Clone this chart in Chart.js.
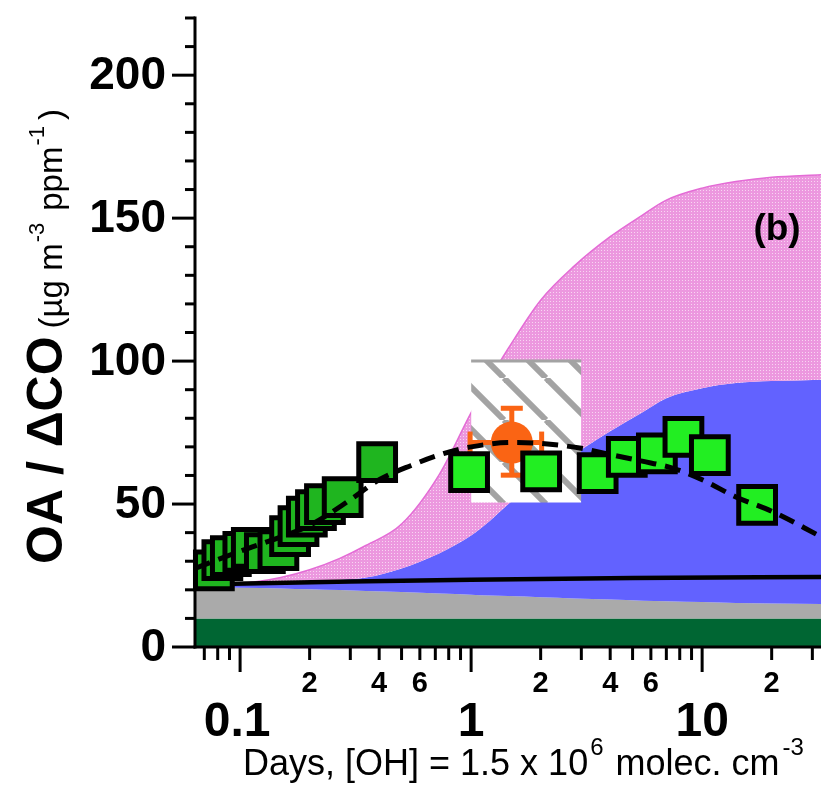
<!DOCTYPE html>
<html>
<head>
<meta charset="utf-8">
<script src="https://cdn.jsdelivr.net/npm/chart.js@4.4.1/dist/chart.umd.min.js"></script>
<style>
  html, body { margin: 0; padding: 0; background: #fff; }
  canvas { display: block; }
</style>
</head>
<body>
<canvas id="c" width="821" height="788"></canvas>
<script>
// ── data (x = days of aging, y = OA/ΔCO) ─────────────────────────────
const X_MIN = 0.0638, X_MAX = 32.7, Y_MAX = 220;

const areaX   = [0.0638, 0.1, 0.15, 0.2, 0.27, 0.35, 0.5, 0.73, 1.0, 1.2, 1.45, 2, 2.8, 4, 5.5, 7, 10, 14, 20, 32.7];
const grayTop = [20.8, 20.7, 20.5, 20.2, 19.9, 19.6, 19.2, 18.7, 18.3, 18.0, 17.8, 17.4, 17.0, 16.6, 16.2, 16.0, 15.7, 15.4, 15.2, 15.0];
const blueTop = [21.8, 22.0, 22.3, 22.8, 23.5, 24.3, 27.5, 32.8, 39.0, 44.0, 50.0, 59.0, 67.5, 75.5, 82.0, 87.0, 90.5, 92.3, 93.0, 93.5];
const pinkTop = [21.8, 22.2, 24.3, 27.0, 31.0, 35.5, 43.0, 60.5, 82.0, 93.5, 104.5, 121.3, 133.3, 143.5, 151.0, 156.3, 160.5, 162.8, 164.3, 165.2];
const darkGreenTop = 10;

const baseLineX = [0.0638, 0.3, 1, 5, 32.7];
const baseLineY = [21.9, 22.9, 23.5, 24.1, 24.5];

const fitX = [0.0638, 0.1, 0.15, 0.2, 0.3, 0.4, 0.55, 0.75, 1.0, 1.5, 2, 3, 4, 5.5, 7.5, 10, 14, 20, 32.7];
const fitY = [27.5, 33.5, 38.5, 42.5, 51.5, 58.5, 63.5, 67.5, 70.0, 71.5, 71.2, 69.5, 67.3, 65.0, 62.5, 58.5, 52.5, 47.5, 38.6];

const earlyX = [0.077, 0.0838, 0.0912, 0.1033, 0.1124, 0.128, 0.1465, 0.1646, 0.179, 0.1945, 0.213, 0.233, 0.278, 0.392];
const earlyY = [26.8, 30.4, 31.8, 33.3, 34.7, 32.8, 33.9, 38.8, 42.3, 45.6, 47.9, 50.0, 52.4, 64.7];

const lateX = [0.98, 2.01, 3.53, 4.72, 6.37, 8.3, 10.8, 17.3];
const lateY = [61.2, 61.4, 60.8, 66.5, 67.7, 73.5, 67.1, 49.7];

const obsPoint = [1.5, 71.5];
const obsXErr  = [0.99, 2.02];
const obsYErr  = [60.1, 83.5];

const boxX = [1, 3];
const boxY = [50.5, 100];

const yMajorTicks = [0, 50, 100, 150, 200];
const yMinorStep = 10;
const xMajorTicks = [0.1, 1, 10];
const xMajorLabels = ['0.1', '1', '10'];
const xMinorLabelled = [2, 4, 6];

// ── helpers ───────────────────────────────────────────────────────────
const pts = (xs, ys) => xs.map((x, i) => ({ x, y: ys[i] }));
const FONT = '"Liberation Sans", Arial, sans-serif';

const canvas = document.getElementById('c');
const ctx = canvas.getContext('2d');

function pinkPattern() {
  const t = document.createElement('canvas');
  t.width = 3; t.height = 3;
  const g = t.getContext('2d');
  g.fillStyle = '#EC98DF'; g.fillRect(0, 0, 3, 3);
  g.fillStyle = '#F8D6F2'; g.fillRect(1, 1, 1, 1);
  return ctx.createPattern(t, 'repeat');
}

function stripePattern() {
  const s = 42;
  const t = document.createElement('canvas');
  t.width = s; t.height = s;
  const g = t.getContext('2d');
  g.fillStyle = '#fff'; g.fillRect(0, 0, s, s);
  g.strokeStyle = '#A3A3A3'; g.lineWidth = 6;
  for (let k = -1; k <= 1; k++) {
    g.beginPath(); g.moveTo(k * s, 0); g.lineTo(k * s + s, s); g.stroke();
  }
  return ctx.createPattern(t, 'repeat');
}

const ORANGE = '#FA6414';
const area = (data, fill, color, extra) => Object.assign({
  type: 'line', data, fill, backgroundColor: color,
  borderColor: 'transparent', borderWidth: 0, pointRadius: 0,
  cubicInterpolationMode: 'monotone'
}, extra || {});

// bottom layer first; "order" is set below so this list is the paint order
const layers = [
  area(pts([X_MIN, X_MAX], [darkGreenTop, darkGreenTop]), 'origin', '#006633'),
  area(pts(areaX, grayTop), 0, '#AAAAAA'),
  area(pts(areaX, blueTop), 1, '#6262FF'),
  area(pts(areaX, pinkTop), 2, pinkPattern(), { borderColor: '#E46CD6', borderWidth: 1.5 }),
  area(pts(boxX, [boxY[1], boxY[1]]), { value: boxY[0] }, stripePattern(),
       { borderColor: '#A3A3A3', borderWidth: 3, cubicInterpolationMode: 'default' }),
  { type: 'line', data: pts(baseLineX, baseLineY), borderColor: '#000', borderWidth: 4.5,
    pointRadius: 0, fill: false, cubicInterpolationMode: 'monotone' },
  // orange observation with error bars
  { type: 'line', data: pts([obsPoint[0], obsPoint[0]], obsYErr), borderColor: ORANGE, borderWidth: 5,
    pointStyle: 'line', pointRadius: 11, pointBorderWidth: 5, pointBorderColor: ORANGE,
    pointRotation: 0, fill: false, clip: false },
  { type: 'line', data: pts(obsXErr, [obsPoint[1], obsPoint[1]]), borderColor: ORANGE, borderWidth: 5,
    pointStyle: 'line', pointRadius: 11, pointBorderWidth: 5, pointBorderColor: ORANGE,
    pointRotation: 90, fill: false, clip: false },
  { type: 'scatter', data: [{ x: obsPoint[0], y: obsPoint[1] }], pointStyle: 'circle',
    pointRadius: 21, backgroundColor: ORANGE, borderWidth: 0, borderColor: ORANGE, clip: false },
  // green squares
  { type: 'scatter', data: pts(earlyX, earlyY), pointStyle: 'rect', pointRadius: 26,
    backgroundColor: '#1FB51F', borderColor: '#000', borderWidth: 5, clip: false },
  { type: 'scatter', data: pts(lateX, lateY), pointStyle: 'rect', pointRadius: 26,
    backgroundColor: '#22EE22', borderColor: '#000', borderWidth: 5, clip: false },
  // fit curve
  { type: 'line', data: pts(fitX, fitY), borderColor: '#000', borderWidth: 5, borderDash: [16, 9],
    pointRadius: 0, fill: false, cubicInterpolationMode: 'monotone' },
];
layers.forEach((d, i) => { d.order = layers.length - i; });

// ── axes, ticks and titles drawn from the chart's own scales ─────────
const igorAxes = {
  id: 'igorAxes',
  afterDraw(chart) {
    const { ctx: g, scales: { x, y }, chartArea: a } = chart;
    g.save();
    g.strokeStyle = '#000'; g.fillStyle = '#000'; g.lineWidth = 3; g.lineCap = 'butt';

    // y axis line + ticks
    g.beginPath();
    g.moveTo(a.left, y.getPixelForValue(Y_MAX) - 1.5);
    g.lineTo(a.left, a.bottom + 1.5);
    g.stroke();
    for (let v = 0; v <= Y_MAX; v += yMinorStep) {
      const p = y.getPixelForValue(v);
      const major = yMajorTicks.includes(v);
      g.beginPath(); g.moveTo(a.left - (major ? 23 : 10), p); g.lineTo(a.left, p); g.stroke();
    }
    g.font = 'bold 46px ' + FONT;
    g.textAlign = 'right'; g.textBaseline = 'middle';
    yMajorTicks.forEach(v => g.fillText(String(v), 166, y.getPixelForValue(v) + 1));

    // x axis line + ticks
    g.beginPath(); g.moveTo(a.left - 1.5, a.bottom); g.lineTo(a.right, a.bottom); g.stroke();
    g.textAlign = 'center';
    for (let d = -2; d <= 1; d++) {
      for (let m = 1; m <= 9; m++) {
        const v = m * Math.pow(10, d);
        if (v < X_MIN || v > X_MAX) continue;
        const p = x.getPixelForValue(v);
        g.beginPath(); g.moveTo(p, a.bottom); g.lineTo(p, a.bottom + (m === 1 ? 25 : 13)); g.stroke();
        if (xMinorLabelled.includes(m)) {
          g.font = 'bold 29px ' + FONT;
          g.fillText(String(m), p, a.bottom + 37);
        }
      }
    }
    g.font = 'bold 48px ' + FONT;
    xMajorTicks.forEach((v, i) => g.fillText(xMajorLabels[i], x.getPixelForValue(v) - (i === 0 ? 3 : 0), a.bottom + 76));

    // x title
    g.textAlign = 'left'; g.textBaseline = 'alphabetic';
    let px = 243;
    const xb = 775;
    g.font = '36px ' + FONT;
    g.fillText('Days, [OH] = 1.5 x 10', px, xb);
    px += g.measureText('Days, [OH] = 1.5 x 10').width + 2;
    g.font = '24px ' + FONT;
    g.fillText('6', px, xb - 20);
    px += g.measureText('6').width + 12;
    g.font = '36px ' + FONT;
    g.fillText('molec. cm', px, xb);
    px += g.measureText('molec. cm').width + 3;
    g.font = '24px ' + FONT;
    g.fillText('-3', px, xb - 20);

    // y title (rotated)
    g.save();
    g.translate(62, 564);
    g.rotate(-Math.PI / 2);
    let py = 0;
    g.font = 'bold 50px ' + FONT;
    g.fillText('OA / ΔCO', py, 0);
    py += g.measureText('OA / ΔCO').width + 8;
    g.font = '33px ' + FONT;
    g.fillText('(µg m', py, 0);
    py += g.measureText('(µg m').width + 1;
    g.font = '22px ' + FONT;
    g.fillText('-3', py, -18);
    py += g.measureText('-3').width + 12;
    g.font = '33px ' + FONT;
    g.fillText('ppm', py, 0);
    py += g.measureText('ppm').width + 1;
    g.font = '22px ' + FONT;
    g.fillText('-1', py, -18);
    py += g.measureText('-1').width + 6;
    g.font = '33px ' + FONT;
    g.fillText(')', py, 0);
    g.restore();

    // panel tag
    g.font = 'bold 37px ' + FONT;
    g.textAlign = 'center'; g.textBaseline = 'middle';
    g.fillText('(b)', 777, 230);
    g.restore();
  }
};

new Chart(ctx, {
  type: 'scatter',
  data: { datasets: layers },
  options: {
    responsive: false,
    animation: false,
    devicePixelRatio: 1,
    events: [],
    layout: { autoPadding: false, padding: { left: 195, right: 0, top: 18, bottom: 141 } },
    scales: {
      x: { type: 'logarithmic', min: X_MIN, max: X_MAX, display: false },
      y: { type: 'linear', min: 0, max: Y_MAX, display: false },
    },
    plugins: {
      legend: { display: false },
      tooltip: { enabled: false },
    },
  },
  plugins: [igorAxes],
});
</script>
</body>
</html>
